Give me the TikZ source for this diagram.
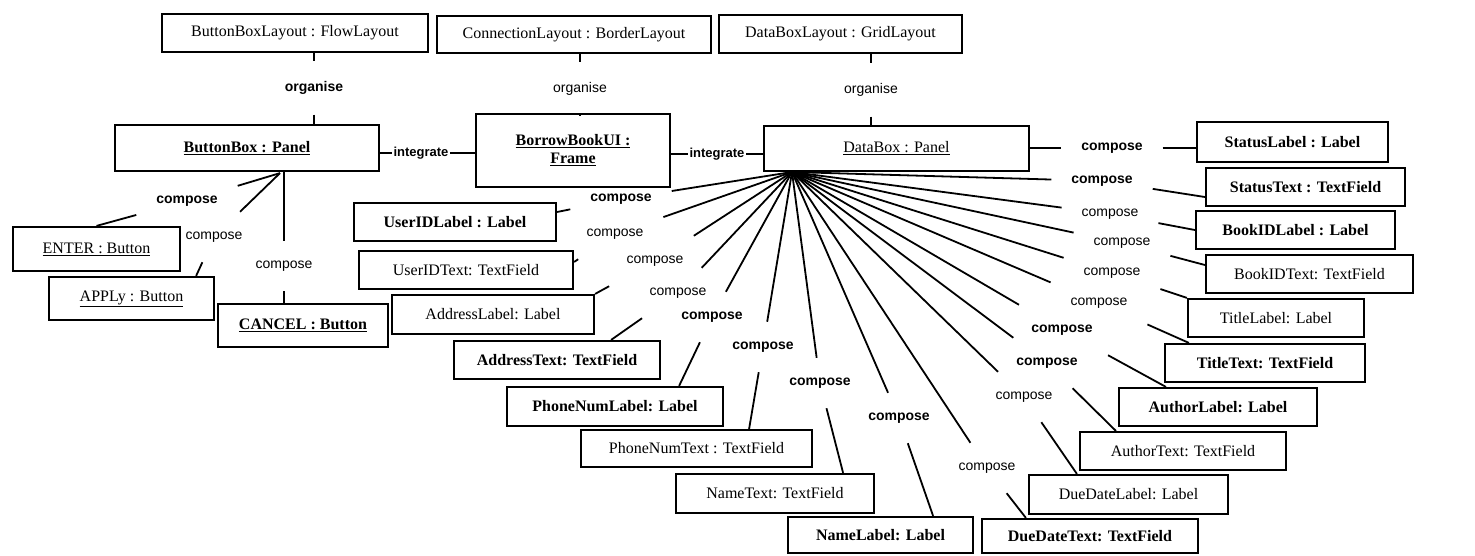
\documentclass[tikz,border=0pt]{standalone}
\usepackage{fontspec}
\setmainfont{Liberation Serif}
\newfontfamily\lblfont{Liberation Sans}
\usetikzlibrary{calc}
\begin{document}
\begin{tikzpicture}[x=1pt,y=-1pt,
  obj/.style={draw, line width=2.2pt, inner sep=0pt, align=center,
    font=\fontsize{16}{18}\selectfont},
  bobj/.style={obj, font=\bfseries\fontsize{16}{18}\selectfont},
  lbl/.style={inner sep=0pt, outer sep=20pt, font=\lblfont\fontsize{14}{16}\selectfont},
  blbl/.style={lbl, font=\lblfont\bfseries\fontsize{14}{16}\selectfont},
  ilbl/.style={inner sep=0pt, outer sep=2pt, font=\lblfont\bfseries\fontsize{13}{15}\selectfont},
  link/.style={line width=1.8pt},
]
\useasboundingbox (0,0) rectangle (1475,555);

% ---------- layout managers ----------
\node[obj, minimum width=266pt, minimum height=38pt] (bbl) at (295,33) {ButtonBoxLayout : FlowLayout};
\node[obj, minimum width=274pt, minimum height=37pt] (cl)  at (574,34.5) {ConnectionLayout : BorderLayout};
\node[obj, minimum width=243pt, minimum height=38pt] (dbl) at (840.5,34) {DataBoxLayout : GridLayout};

% ---------- containers ----------
\node[bobj, minimum width=264pt, minimum height=46pt] (bb) at (247,148) {\underline{ButtonBox : Panel}};
\node[bobj, minimum width=194pt, minimum height=73pt] (ui) at (573,150.5) {\underline{BorrowBookUI :}\\\underline{Frame}};
\node[obj, minimum width=265pt, minimum height=45pt] (db) at (896.5,148.5) {\underline{DataBox : Panel}};

% ---------- buttons ----------
\node[obj, minimum width=167pt, minimum height=44pt] (enter)  at (96.5,249)  {\underline{ENTER : Button}};
\node[obj, minimum width=165pt, minimum height=43pt] (apply)  at (131.5,298.5) {\underline{APPLy : Button}};
\node[bobj, minimum width=170pt, minimum height=43pt] (cancel) at (303,325.5) {\underline{CANCEL : Button}};

% ---------- data box components, left fan ----------
\node[bobj, minimum width=202pt, minimum height=38pt] (uidl) at (455,222)   {UserIDLabel : Label};
\node[obj,  minimum width=214pt, minimum height=38pt] (uidt) at (466,270)   {UserIDText: TextField};
\node[obj,  minimum width=202pt, minimum height=39pt] (addl) at (493,314.5) {AddressLabel: Label};
\node[bobj, minimum width=206pt, minimum height=38pt] (addt) at (557,360)   {AddressText: TextField};
\node[bobj, minimum width=216pt, minimum height=39pt] (phl)  at (615,406.5) {PhoneNumLabel: Label};
\node[obj,  minimum width=231pt, minimum height=37pt] (pht)  at (696.5,448.5) {PhoneNumText : TextField};
\node[obj,  minimum width=198pt, minimum height=39pt] (nmt)  at (775,493.5) {NameText: TextField};
\node[bobj, minimum width=185pt, minimum height=36pt] (nml)  at (880.5,535) {NameLabel: Label};

% ---------- data box components, right fan ----------
\node[bobj, minimum width=216pt, minimum height=34pt] (ddt) at (1090,536)    {DueDateText: TextField};
\node[obj,  minimum width=199pt, minimum height=39pt] (ddl) at (1128.5,494.5) {DueDateLabel: Label};
\node[obj,  minimum width=206pt, minimum height=38pt] (aut) at (1183,451)    {AuthorText: TextField};
\node[bobj, minimum width=198pt, minimum height=38pt] (aul) at (1218,407)    {AuthorLabel: Label};
\node[bobj, minimum width=200pt, minimum height=38pt] (tit) at (1265,363)    {TitleText: TextField};
\node[obj,  minimum width=176pt, minimum height=38pt] (til) at (1276,318)    {TitleLabel: Label};
\node[obj,  minimum width=207pt, minimum height=38pt] (bit) at (1309.5,274)  {BookIDText: TextField};
\node[bobj, minimum width=199pt, minimum height=38pt] (bil) at (1295.5,230)  {BookIDLabel : Label};
\node[bobj, minimum width=199pt, minimum height=38pt] (stt) at (1305.5,187)  {StatusText : TextField};
\node[bobj, minimum width=191pt, minimum height=40pt] (stl) at (1292.5,142)  {StatusLabel : Label};

% ---------- organise ----------
\node[blbl] (o1) at (314,88) {organise};
\node[lbl]  (o2) at (580,89) {organise};
\node[lbl]  (o3) at (871,90) {organise};
\draw[link] (o1 |- bbl.south) -- (o1);  \draw[link] (o1) -- (o1 |- bb.north);
\draw[link] (o2 |- cl.south)  -- (o2);  \draw[link] (o2) -- (o2 |- ui.north);
\draw[link] (o3 |- dbl.south) -- (o3);  \draw[link] (o3) -- (o3 |- db.north);

% ---------- integrate ----------
\node[ilbl] (i1) at (421,153) {integrate};
\node[ilbl] (i2) at (717,154) {integrate};
\draw[link] (bb.east |- i1) -- (i1);  \draw[link] (i1) -- (ui.west |- i1);
\draw[link] (ui.east |- i2) -- (i2);  \draw[link] (i2) -- (db.west |- i2);

% ---------- button box composition ----------
\coordinate (bbf) at ($(bb.south)+(33,1)$);
\node[blbl] (ce) at (187,201) {compose};
\node[lbl]  (ca) at (214,237) {compose};
\node[lbl]  (cc) at (284,266) {compose};
\draw[link] (bbf) -- (ce);  \draw[link] (ce) -- (enter.north);
\draw[link] (bbf) -- (ca);  \draw[link] (ca) -- ($(apply.north east)+(-19,0)$);
\draw[link] (cc |- bb.south) -- (cc);  \draw[link] (cc) -- (cc |- cancel.north);

% ---------- data box composition ----------
\coordinate (dbf) at (792,172);
\node[blbl] (k1)  at (621,199)  {compose};
\node[lbl]  (k2)  at (615,234)  {compose};
\node[lbl]  (k3)  at (655,261)  {compose};
\node[lbl]  (k4)  at (678,293)  {compose};
\node[blbl] (k5)  at (712,317)  {compose};
\node[blbl] (k6)  at (763,347)  {compose};
\node[blbl] (k7)  at (820,383)  {compose};
\node[blbl] (k8)  at (899,418)  {compose};
\node[lbl]  (k9)  at (987,468)  {compose};
\node[lbl]  (k10) at (1024,397) {compose};
\node[blbl] (k11) at (1047,363) {compose};
\node[blbl] (k12) at (1062,330) {compose};
\node[lbl]  (k13) at (1099,303) {compose};
\node[lbl]  (k14) at (1112,273) {compose};
\node[lbl]  (k15) at (1122,243) {compose};
\node[lbl]  (k16) at (1110,214) {compose};
\node[blbl] (k17) at (1102,181) {compose};
\node[blbl] (k18) at (1112,148) {compose};

\foreach \k in {k1,k2,k3,k4,k5,k6,k7,k8,k9,k10,k11,k12,k13,k14,k15,k16,k17}
  \draw[link] (dbf) -- (\k);
\draw[link] (db.east |- k18) -- (k18);

\draw[link] (k1)  -- ($(uidl.east)+(0,-10)$);
\draw[link] (k2)  -- ($(uidt.east)+(0,-8)$);
\draw[link] (k3)  -- (addl.north east);
\draw[link] (k4)  -- ($(addt.north east)+(-50,0)$);
\draw[link] (k5)  -- ($(phl.north east)+(-45,0)$);
\draw[link] (k6)  -- ($(pht.north east)+(-64,0)$);
\draw[link] (k7)  -- ($(nmt.north east)+(-32,0)$);
\draw[link] (k8)  -- ($(nml.north east)+(-41,0)$);
\draw[link] (k9)  -- ($(ddt.north west)+(45,0)$);
\draw[link] (k10) -- ($(ddl.north west)+(49,0)$);
\draw[link] (k11) -- ($(aut.north west)+(37,0)$);
\draw[link] (k12) -- ($(aul.north west)+(48,0)$);
\draw[link] (k13) -- ($(tit.north west)+(25,0)$);
\draw[link] (k14) -- (til.north west);
\draw[link] (k15) -- ($(bit.west)+(0,-9)$);
\draw[link] (k16) -- (bil.west);
\draw[link] (k17) -- ($(stt.west)+(0,10)$);
\draw[link] (k18) -- (stl.west |- k18);
\end{tikzpicture}
\end{document}
